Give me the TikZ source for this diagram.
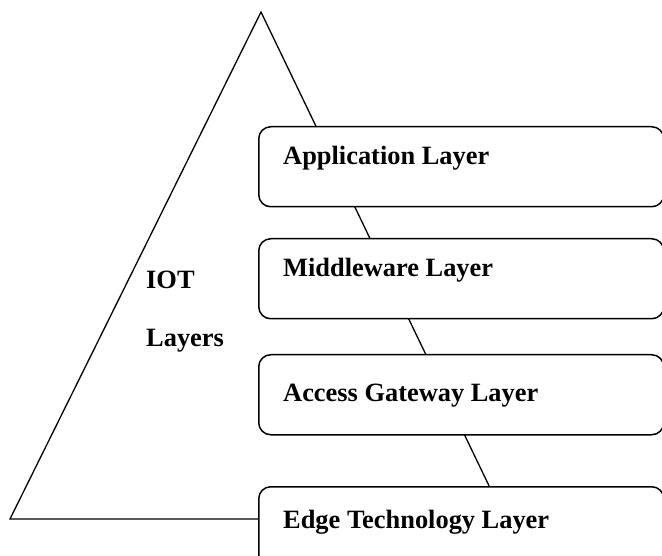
\documentclass[tikz,border=0pt]{standalone}
\usepackage{fontspec}
\setmainfont{Liberation Serif}
\usepackage{tikz}

\tikzset{
  layerbox/.style={draw, line width=1.5pt, rounded corners=12pt, fill=white,
    minimum width=405pt, minimum height=80pt, anchor=north west, inner sep=0pt},
  layertext/.style={anchor=base west, inner sep=0pt,
    font=\fontsize{26.4}{30}\selectfont\bfseries}
}

\begin{document}
\begin{tikzpicture}[x=1pt,y=-1pt]
\useasboundingbox (0,0) rectangle (662,556);

% Pyramid
\coordinate (apex) at (261,12);
\coordinate (baseL) at (10,519);
\coordinate (baseR) at (505,519);
\draw[line width=1.3pt] (baseL) -- (apex) -- (baseR) -- cycle;
\node[layertext] (iot) at (146,289) {IOT};
\node[layertext] (iotlayers) at (146,347) {Layers};

% Application Layer
\node[layerbox] (app) at (258,126) {};
\node[layertext] (apptext) at (283,165) {Application Layer};

% Middleware Layer
\node[layerbox] (mid) at (258,238) {};
\node[layertext] (midtext) at (283,277) {Middleware Layer};

% Access Gateway Layer
\node[layerbox] (gw) at (258,354) {};
\node[layertext] (gwtext) at (283,401) {Access Gateway Layer};

% Edge Technology Layer
\node[layerbox] (edge) at (258,486) {};
\node[layertext] (edgetext) at (283,528) {Edge Technology Layer};
\end{tikzpicture}
\end{document}
